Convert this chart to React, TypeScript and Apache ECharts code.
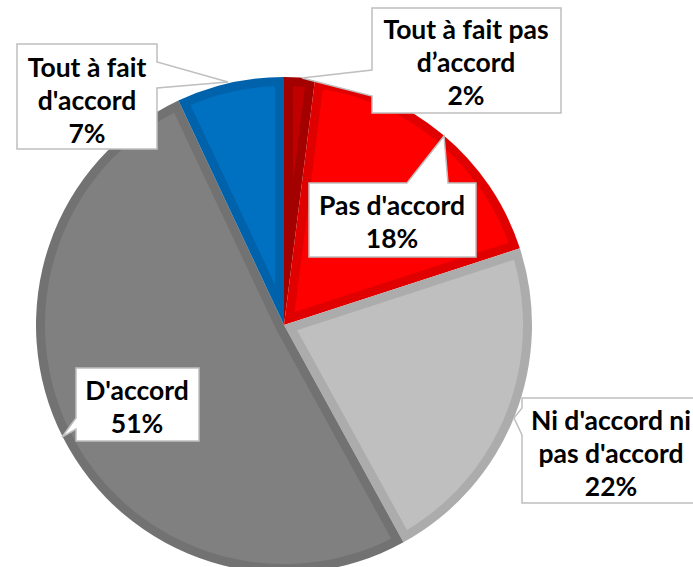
import React, { useEffect, useRef } from "react";
import * as echarts from "echarts";

const categories = [
  "Tout à fait pas\nd’accord",
  "Pas d'accord",
  "Ni d'accord ni\npas d'accord",
  "D'accord",
  "Tout à fait\nd'accord",
];
const values = [2, 18, 22, 51, 7];
const fillColors = ["#c00000", "#ff0000", "#bfbfbf", "#808080", "#0070c0"];
const borderColors = ["#a30000", "#e00000", "#acacac", "#727272", "#0062ab"];

// label text centers (px)
const labelCenters = [
  [466, 62],
  [392, 221],
  [611, 453],
  [137, 406],
  [87, 100],
];

// callout box outlines (px)
const callouts = [
  [[372, 8], [561, 8], [561, 113], [372, 113], [372, 96], [302, 78], [372, 70]],
  [[309, 183], [407, 183], [444, 136], [448, 183], [476, 183], [476, 257], [309, 257]],
  [[522, 398], [698, 398], [698, 503], [522, 503], [522, 435], [514, 418], [522, 408]],
  [[76, 368], [199, 368], [199, 441], [76, 441], [76, 429], [62, 437], [76, 418]],
  [[17, 44], [157, 44], [157, 62], [228, 82], [157, 88], [157, 149], [17, 149]],
];

const CX = 284;
const CY = 325;
const R = 248;
const W = 9;

function insetPoints(a0: number, a1: number) {
  const span = a1 - a0;
  const r2 = R - W;
  const d = Math.asin(W / r2);
  const pts: number[][] = [];
  const n = Math.max(4, Math.ceil((span - 2 * d) / 0.02));
  for (let k = 0; k <= n; k++) {
    const a = a0 + d + ((span - 2 * d) * k) / n;
    pts.push([CX + r2 * Math.cos(a), CY + r2 * Math.sin(a)]);
  }
  if (span < Math.PI) {
    const dist = W / Math.sin(span / 2);
    const am = (a0 + a1) / 2;
    pts.push([CX + dist * Math.cos(am), CY + dist * Math.sin(am)]);
  } else {
    const s = a1 - Math.PI / 2;
    const e = a0 + Math.PI / 2;
    for (let k = 0; k <= 8; k++) {
      const a = s + ((e - s) * k) / 8;
      pts.push([CX + W * Math.cos(a), CY + W * Math.sin(a)]);
    }
  }
  return pts;
}

export default function App() {
  const ref = useRef<HTMLDivElement>(null);
  useEffect(() => {
    const chart = echarts.init(ref.current!, null, { renderer: "svg" });
    const total = values.reduce((a, b) => a + b, 0);
    const pieData = categories.map((name, i) => ({ name, value: values[i] }));
    chart.setOption({
      animation: false,
      backgroundColor: "#ffffff",
      series: [
        {
          type: "pie",
          z: 1,
          silent: true,
          center: [CX, CY],
          radius: R,
          startAngle: 90,
          clockwise: true,
          label: { show: false },
          labelLine: { show: false },
          emphasis: { disabled: true },
          data: pieData.map((d, i) => ({ ...d, itemStyle: { color: borderColors[i] } })),
        },
        {
          type: "custom",
          z: 3,
          silent: true,
          coordinateSystem: "none",
          data: values,
          renderItem: (params: any, api: any) => {
            const i = params.dataIndex;
            let cum = 0;
            for (let k = 0; k < i; k++) cum += values[k];
            const a0 = -Math.PI / 2 + (cum / total) * 2 * Math.PI;
            const a1 = a0 + (api.value(0) / total) * 2 * Math.PI;
            return {
              type: "polygon",
              shape: { points: insetPoints(a0, a1) },
              style: { fill: fillColors[i] },
            };
          },
        },
        {
          type: "pie",
          z: 60,
          silent: true,
          center: [CX, CY],
          radius: R,
          startAngle: 90,
          clockwise: true,
          avoidLabelOverlap: false,
          itemStyle: { color: "rgba(0,0,0,0)" },
          emphasis: { disabled: true },
          label: {
            show: true,
            position: "outside",
            formatter: (p: any) => `${p.name}\n${p.value}%`,
            fontFamily: "Lato",
            fontWeight: "bold",
            fontSize: 26.5,
            lineHeight: 33,
            color: "#000000",
            align: "center",
          },
          labelLine: { show: false },
          labelLayout: (p: any) => ({
            x: labelCenters[p.dataIndex][0],
            y: labelCenters[p.dataIndex][1],
            align: "center",
            verticalAlign: "middle",
          }),
          data: pieData,
        },
      ],
      graphic: callouts.map((pts) => ({
        type: "polygon",
        z: 50,
        silent: true,
        shape: { points: pts },
        style: { fill: "#ffffff", stroke: "#bfbfbf", lineWidth: 1.5 },
      })),
    });
    return () => chart.dispose();
  }, []);
  return (
    <div
      ref={ref}
      style={{ position: "fixed", left: 0, top: 0, width: 693, height: 567 }}
    />
  );
}
